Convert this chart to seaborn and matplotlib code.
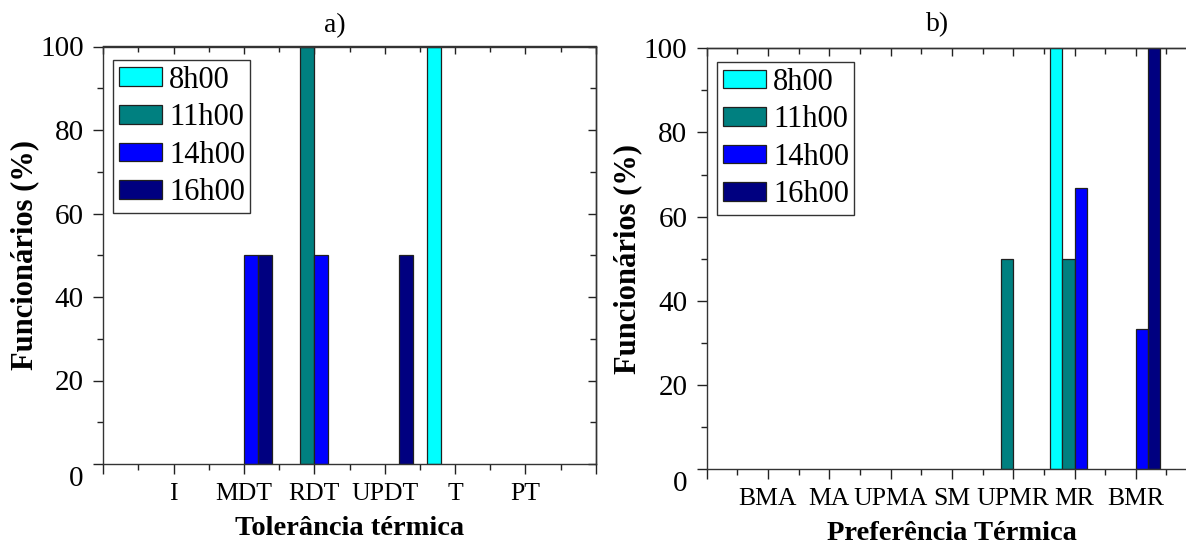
import numpy as np
import pandas as pd
import matplotlib
matplotlib.use("Agg")
import matplotlib.pyplot as plt
import matplotlib.transforms as mtransforms
import seaborn as sns

# ---------------- data ----------------
times = ["8h00", "11h00", "14h00", "16h00"]
colors = ["#00FFFF", "#008080", "#0000FF", "#000080"]

cats_a = ["I", "MDT", "RDT", "UPDT", "T", "PT"]
a_8h = [0, 0, 0, 0, 100, 0]
a_11h = [0, 0, 100, 0, 0, 0]
a_14h = [0, 50, 50, 0, 0, 0]
a_16h = [0, 50, 0, 50, 0, 0]

cats_b = ["BMA", "MA", "UPMA", "SM", "UPMR", "MR", "BMR"]
b_8h = [0, 0, 0, 0, 0, 100, 0]
b_11h = [0, 0, 0, 0, 50, 50, 0]
b_14h = [0, 0, 0, 0, 0, 66.7, 33.3]
b_16h = [0, 0, 0, 0, 0, 0, 100]

titles = ["a)", "b)"]
xlabels = ["Tolerância térmica", "Preferência Térmica"]
ylabel = "Funcionários (%)"
yticks = [0, 20, 40, 60, 80, 100]


def long_df(cats, series):
    rows = []
    for t, vals in zip(times, series):
        for c, v in zip(cats, vals):
            rows.append({"cat": c, "time": t, "val": v})
    return pd.DataFrame(rows)


df_a = long_df(cats_a, [a_8h, a_11h, a_14h, a_16h])
df_b = long_df(cats_b, [b_8h, b_11h, b_14h, b_16h])

# ---------------- style ----------------
sns.set_theme(style="ticks")
plt.rcParams["font.family"] = ["Liberation Serif", "DejaVu Serif"]
plt.rcParams["text.color"] = "black"
plt.rcParams["axes.labelcolor"] = "black"
plt.rcParams["xtick.color"] = "#222222"
plt.rcParams["ytick.color"] = "#222222"
plt.rcParams["xtick.labelcolor"] = "black"
plt.rcParams["ytick.labelcolor"] = "black"
plt.rcParams["axes.edgecolor"] = "#333333"
plt.rcParams["axes.linewidth"] = 1.0

W, H = 1186, 544
fig = plt.figure(figsize=(W / 100, H / 100), dpi=100)

# axes rectangles in pixels: left, top, right, bottom
rect_a = (103.3, 46.5, 595.7, 464.0)
rect_b = (706.7, 48.3, 706.7 + 8 * 61.3, 469.0)


def add_ax(r):
    l, t, rr, b = r
    return fig.add_axes([l / W, (H - b) / H, (rr - l) / W, (b - t) / H])


ax_a = add_ax(rect_a)
ax_b = add_ax(rect_b)

legend_pos = [(113.3, 60.0), (717.3, 62.3)]
title_pos = [(335, 26), (938, 25)]

for i, (ax, df, cats, rect) in enumerate(
    [(ax_a, df_a, cats_a, rect_a), (ax_b, df_b, cats_b, rect_b)]
):
    sns.barplot(
        data=df, x="cat", y="val", hue="time", order=cats, hue_order=times,
        palette=colors, errorbar=None, width=0.8, dodge=True,
        edgecolor="#202020", linewidth=0.9, ax=ax, saturation=1,
    )
    # empty bars leave no outline on the baseline
    for p in ax.patches:
        if p.get_height() == 0:
            p.set_linewidth(0)

    n = len(cats)
    ax.set_xlim(-1, n)
    ax.set_ylim(0, 100)
    ax.set_xticks(np.arange(-1, n + 1))
    ax.set_xticklabels([""] + cats + [""], fontsize=18.5)
    ax.set_xticks(np.arange(-0.5, n + 0.5, 1), minor=True)
    ax.set_yticks(yticks)
    ax.set_yticklabels([str(v) for v in yticks], fontsize=21)
    ax.set_yticks(np.arange(10, 100, 20), minor=True)
    ax.tick_params(axis="both", which="major", direction="out", length=7,
                   width=1.0, pad=7)
    ax.tick_params(axis="both", which="minor", direction="out", length=4,
                   width=1.0)
    ax.tick_params(axis="x", which="major", pad=7)
    for s in ax.spines.values():
        s.set_visible(True)
        s.set_color("#333333")

    # inward ticks on top and right
    sx = ax.secondary_xaxis("top")
    sx.set_xticks(np.arange(-1, n + 1))
    sx.set_xticks(np.arange(-0.5, n + 0.5, 1), minor=True)
    sx.tick_params(which="major", direction="in", length=6, width=1.0,
                   labeltop=False)
    sx.tick_params(which="minor", direction="in", length=4, width=1.0,
                   labeltop=False)
    sy = ax.secondary_yaxis("right")
    sy.set_yticks(yticks)
    sy.set_yticks(np.arange(10, 100, 20), minor=True)
    sy.tick_params(which="major", direction="in", length=6, width=1.0,
                   labelright=False)
    sy.tick_params(which="minor", direction="in", length=4, width=1.0,
                   labelright=False)

    # labels
    l, t, rr, b = rect
    w_px, h_px = rr - l, b - t
    ax.set_xlabel(xlabels[i], fontsize=20.5, fontweight="bold")
    ax.xaxis.set_label_coords(0.5, -52.0 / h_px)
    ax.set_ylabel(ylabel, fontsize=22, fontweight="bold")
    ax.yaxis.set_label_coords(-64.0 / w_px, 0.5)

    # "0" label sits a bit lower, as in the original
    t0 = ax.yaxis.get_major_ticks()[0]
    t0.label1.set_transform(
        t0.label1.get_transform()
        + mtransforms.ScaledTranslation(0, -12 / 100, fig.dpi_scale_trans)
    )

    # legend
    old = ax.get_legend()
    handles = old.legend_handles
    labels = [tt.get_text() for tt in old.get_texts()]
    for h_ in handles:
        h_.set_edgecolor("#202020")
        h_.set_linewidth(0.9)
    lx, ly = legend_pos[i]
    leg = ax.legend(
        handles, labels, loc="upper left",
        bbox_to_anchor=((lx - l) / w_px, 1 - (ly - t) / h_px),
        fontsize=22, frameon=True, fancybox=False, shadow=False,
        borderaxespad=0, borderpad=0.18, handlelength=1.42, handleheight=0.56,
        handletextpad=0.22, labelspacing=0.28, title=None,
    )
    leg.get_frame().set_edgecolor("#333333")
    leg.get_frame().set_linewidth(1.0)
    leg.get_frame().set_alpha(1)

    tx, ty = title_pos[i]
    fig.text(tx / W, 1 - ty / H, titles[i], ha="center", va="center",
             fontsize=20)

fig.savefig("out.png", dpi=100)
